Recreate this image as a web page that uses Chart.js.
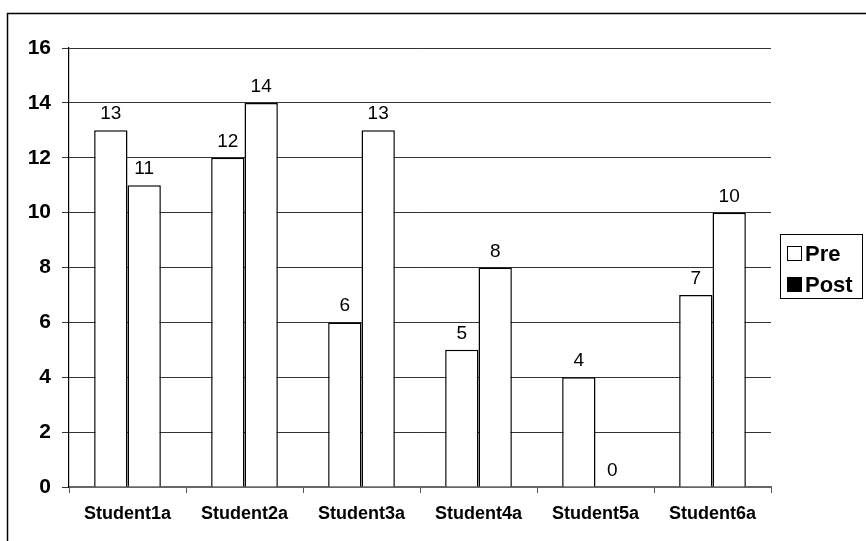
<!DOCTYPE html>
<html>
<head>
<meta charset="utf-8">
<script src="https://cdn.jsdelivr.net/npm/chart.js@4"></script>
<style>
  html, body { margin: 0; padding: 0; background: #fff; }
  #wrap { position: relative; width: 866px; height: 541px; }
</style>
</head>
<body>
<div id="wrap"><canvas id="chart" width="866" height="541"></canvas></div>
<script>
const categories = ['Student1a', 'Student2a', 'Student3a', 'Student4a', 'Student5a', 'Student6a'];
const preValues = [13, 12, 6, 5, 4, 7];
const postValues = [11, 14, 13, 8, 0, 10];
const yTicks = [0, 2, 4, 6, 8, 10, 12, 14, 16];
const legendLabels = ['Pre', 'Post'];
const legendSwatches = ['#ffffff', '#000000'];

const FONT = '"Liberation Sans", Arial, Helvetica, sans-serif';

// outer frame, value labels and the legend box
const decor = {
  id: 'decor',
  afterDraw(chart) {
    const ctx = chart.ctx;
    ctx.save();

    ctx.strokeStyle = '#000';
    ctx.lineWidth = 1.5;
    ctx.beginPath();
    ctx.moveTo(7.5, 545);
    ctx.lineTo(7.5, 13.5);
    ctx.lineTo(870, 13.5);
    ctx.stroke();

    // value labels on top of the bars
    ctx.fillStyle = '#000';
    ctx.font = '19px ' + FONT;
    ctx.textAlign = 'center';
    ctx.textBaseline = 'alphabetic';
    chart.data.datasets.forEach((ds, i) => {
      chart.getDatasetMeta(i).data.forEach((bar, j) => {
        ctx.fillText(String(ds.data[j]), bar.x, bar.y - 11);
      });
    });

    // legend
    const lx = 780, ly = 234, lw = 83, lh = 65;
    ctx.fillStyle = '#fff';
    ctx.fillRect(lx, ly, lw, lh);
    ctx.strokeStyle = '#000';
    ctx.lineWidth = 1;
    ctx.strokeRect(lx + 0.5, ly + 0.5, lw - 1, lh - 1);
    ctx.font = 'bold 22px ' + FONT;
    ctx.textAlign = 'left';
    ctx.textBaseline = 'middle';
    legendLabels.forEach((label, i) => {
      const cy = ly + 20 + i * 31;
      ctx.fillStyle = legendSwatches[i];
      ctx.fillRect(lx + 7, cy - 8, 15, 15);
      ctx.strokeStyle = '#000';
      ctx.strokeRect(lx + 7.5, cy - 7.5, 14, 14);
      ctx.fillStyle = '#000';
      ctx.fillText(label, lx + 25, cy + 1);
    });

    ctx.restore();
  }
};

new Chart(document.getElementById('chart').getContext('2d'), {
  type: 'bar',
  data: {
    labels: categories,
    datasets: [
      {
        label: legendLabels[0],
        data: preValues,
        backgroundColor: '#ffffff',
        borderColor: '#000000',
        borderWidth: 1.5,
        categoryPercentage: 0.57,
        barPercentage: 1,
      },
      {
        label: legendLabels[1],
        data: postValues,
        backgroundColor: '#ffffff',
        borderColor: '#000000',
        borderWidth: 1.5,
        categoryPercentage: 0.57,
        barPercentage: 1,
      },
    ],
  },
  options: {
    responsive: false,
    animation: false,
    layout: { padding: { left: 0, top: 48, right: 95, bottom: 0 } },
    scales: {
      x: {
        afterFit: s => { s.height = 54; },
        grid: { offset: true, drawOnChartArea: false, drawTicks: true, tickLength: 6, color: '#555' },
        border: { color: '#666', width: 2 },
        ticks: { color: '#000', font: { family: FONT, size: 18, weight: 'bold' }, padding: 10 },
      },
      y: {
        min: 0,
        max: 16,
        afterFit: s => { s.width = 69; },
        afterBuildTicks: s => { s.ticks = yTicks.map(v => ({ value: v })); },
        grid: { color: '#333', lineWidth: 1, tickLength: 7 },
        border: { color: '#000', width: 1.2 },
        ticks: { color: '#000', font: { family: FONT, size: 21, weight: 'bold' }, padding: 11 },
      },
    },
    plugins: {
      legend: { display: false },
      tooltip: { enabled: false },
    },
  },
  plugins: [decor],
});
</script>
</body>
</html>
